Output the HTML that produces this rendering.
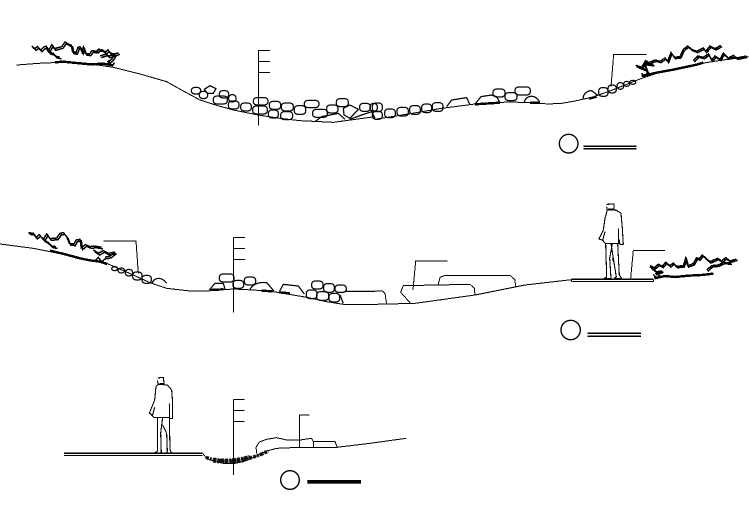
<!DOCTYPE html>
<html><head><meta charset="utf-8"><style>
html,body{margin:0;padding:0;background:#fff;width:749px;height:530px;overflow:hidden}
svg{display:block}
svg *{vector-effect:non-scaling-stroke}
.l{fill:none;stroke:#000;stroke-width:1;shape-rendering:crispEdges;stroke-linejoin:round}
.r{fill:none;stroke:#000;stroke-width:1.25;stroke-linejoin:round}
.r rect{rx:11px;ry:9px}
.s{fill:none;stroke:#000;stroke-width:1.5;shape-rendering:crispEdges}
.t{fill:none;stroke:#000;stroke-width:2.4;shape-rendering:crispEdges}
.g{fill:none;stroke:#111;stroke-width:5;stroke-dasharray:3 1 2 1 4 1}
</style></head><body>
<svg width="749" height="530" viewBox="0 0 749 530" xmlns="http://www.w3.org/2000/svg">

<!-- SECTION 1 LEFT -->
<g transform="translate(0,30) scale(.33333)">
<polyline class="l" points="50,105 115,100 180,97 260,100 340,112 420,132 500,155 550,183 600,210 650,226 700,240 775,255 840,265 900,272 1000,277 1125,260"/>
<g id="sa">
<polyline class="s" points="95,48 105,56 112,50 122,60 130,52 138,48 146,62 155,44 163,56 185,50 195,36 205,42 214,46 218,66 228,68 234,52 240,50 246,66 250,52 256,70 268,72 276,62 290,64 296,58 308,60 316,66 324,60 332,70 344,72 356,68"/>
<polyline class="s" points="140,58 150,68 160,70 166,78 180,82"/>
<polyline class="s" points="300,78 318,72 326,78 345,72 335,88 322,96"/>
</g>
<use href="#sa" x="4" y="5"/>
<polyline class="t" points="165,97 190,95 230,99 270,103 310,101 340,106"/>
<polyline class="s" points="320,106 328,96 336,108 344,98"/>
<!-- pole -->
<polyline class="l" points="775,60 775,287"/>
<polyline class="l" points="775,61 810,61"/><polyline class="l" points="775,94 810,94"/><polyline class="l" points="775,127 810,127"/>
<!-- rocks -->
<g class="r">
<rect x="574" y="172" width="28" height="20" rx="8"/>
<polygon points="613,178 630,167 648,176 640,190 622,190"/>
<rect x="598" y="184" width="25" height="22" rx="8"/>
<rect x="658" y="182" width="28" height="22" rx="8"/>
<rect x="640" y="198" width="42" height="24" rx="9"/>
<rect x="686" y="194" width="22" height="22" rx="8"/>
<rect x="685" y="213" width="32" height="24" rx="7"/>
<rect x="722" y="219" width="32" height="24" rx="8"/>
<rect x="760" y="203" width="44" height="22" rx="8"/>
<rect x="758" y="228" width="44" height="24" rx="8"/>
<rect x="808" y="214" width="34" height="24" rx="8"/>
<rect x="805" y="240" width="30" height="24" rx="7"/>
<rect x="844" y="219" width="36" height="24" rx="8"/>
<rect x="842" y="245" width="36" height="24" rx="7"/>
<rect x="883" y="227" width="34" height="26" rx="8"/>
<rect x="913" y="211" width="44" height="22" rx="8"/>
<rect x="938" y="238" width="44" height="24" rx="8"/>
<rect x="980" y="225" width="34" height="24" rx="6"/>
<rect x="1009" y="206" width="36" height="24" rx="8"/>
<polygon points="1030,235 1050,225 1075,238 1050,265 1032,255"/>
<rect x="1079" y="220" width="32" height="24" rx="8"/>
<rect x="1110" y="220" width="22" height="24" rx="6"/>
<polyline points="945,275 965,260 1015,250 1035,268"/>
<polyline points="1050,268 1085,255 1115,245 1125,265"/>
</g>
</g>

<!-- SECTION 1 RIGHT -->
<g transform="translate(375,30) scale(.33333)">
<polyline class="l" points="0,268 100,252 200,235 300,222 400,216 470,218 520,222 560,220 600,213 650,202 700,185 750,165 800,145 870,122 950,105 1030,92 1120,80"/>
<g class="r">
<rect x="-8" y="219" width="30" height="26" rx="6"/>
<rect x="-8" y="244" width="30" height="24" rx="6"/>
<rect x="29" y="237" width="32" height="26" rx="8"/>
<rect x="66" y="232" width="34" height="26" rx="8"/>
<rect x="104" y="227" width="32" height="26" rx="8"/>
<rect x="140" y="222" width="30" height="26" rx="8"/>
<rect x="172" y="218" width="32" height="26" rx="8"/>
<polyline points="215,230 230,210 275,203 285,225"/>
<polyline points="300,222 318,200 350,195 365,200 375,218"/>
<rect x="354" y="177" width="36" height="24" rx="10"/>
<rect x="390" y="188" width="36" height="24" rx="7"/>
<rect x="420" y="171" width="46" height="24" rx="10"/>
<path d="M448,216 C452,196 480,190 494,216"/>
<path d="M625,208 C622,190 640,182 650,182 L668,196"/>
<rect x="671" y="173" width="28" height="26" rx="10"/>
<rect x="699" y="165" width="25" height="24" rx="9"/>
<rect x="726" y="158" width="20" height="20" rx="7"/>
<rect x="746" y="154" width="18" height="15" rx="6"/>
<rect x="764" y="151" width="18" height="12" rx="5"/>
</g>
<polyline class="t" points="300,223 375,218"/><polyline class="t" points="465,218 495,218"/><polyline class="t" points="642,206 665,200"/>
<polyline class="l" points="815,73 716,73 708,170"/>
<g id="sb">
<polyline class="s" points="782,106 800,112 812,92 822,98 840,90 855,94 870,84 878,94 888,68 898,82 915,80 925,58 938,48 950,58 965,64 985,54 992,64 1005,48 1020,56 1038,46"/>
<polyline class="s" points="790,110 815,120 808,100 835,104"/>
<polyline class="s" points="955,92 968,78 985,82 1000,72 1010,90 1020,78 1035,88 1045,70 1060,84 1075,76 1085,84 1115,78"/>
</g>
<use href="#sb" x="3" y="4"/>
<polyline class="t" points="800,138 850,127 900,118 960,105 985,98"/>
<polyline class="s" points="800,130 810,140 818,126 828,136"/>
<!-- scale -->
<circle class="l" cx="581" cy="341" r="28" style="stroke-width:1.4;shape-rendering:auto"/>
<polyline class="l" points="625,349 785,349" style="stroke-width:1.3"/>
<polyline class="l" points="625,356 785,356" style="stroke-width:1.3"/>
</g>

<!-- SECTION 2 LEFT -->
<g transform="translate(0,220) scale(.33333)">
<polyline class="l" points="0,72 100,85 200,105 320,130 400,165 450,188 500,205 570,213 620,213 700,207 760,210 820,215 920,232 980,245 1030,253 1125,253"/>
<g id="sc">
<polyline class="s" points="85,38 100,40 108,52 118,44 130,58 140,42 150,56 170,54 180,40 190,38 200,50 208,70 222,72 228,60 240,58 244,84 256,74 270,80 285,78 305,82"/>
<polyline class="s" points="130,58 145,68 155,78 168,80"/>
<polyline class="s" points="280,90 295,100 310,92 325,100 345,96 330,108 315,112"/>
</g>
<use href="#sc" x="4" y="5"/>
<polyline class="t" points="150,92 200,104 240,115 270,121 300,125 322,132"/>
<polyline class="s" points="285,122 295,112 305,125 318,115"/>
<polyline class="l" points="310,63 408,63 415,160"/>
<polyline class="l" points="700,52 700,277"/>
<polyline class="l" points="700,52 735,52"/><polyline class="l" points="700,85 735,85"/><polyline class="l" points="700,118 735,118"/>
<g class="r">
<path d="M456,190 C462,172 485,168 500,190"/>
<rect x="426" y="166" width="28" height="24" rx="9"/>
<rect x="398" y="156" width="28" height="24" rx="9"/>
<rect x="376" y="148" width="22" height="20" rx="7"/>
<rect x="354" y="144" width="20" height="15" rx="5"/>
<rect x="335" y="140" width="18" height="12" rx="5"/>
<rect x="658" y="162" width="44" height="24" rx="9"/>
<polyline points="628,210 645,190 670,190 675,207"/>
<rect x="699" y="181" width="32" height="24" rx="7"/>
<rect x="733" y="171" width="34" height="24" rx="7"/>
<path d="M750,208 C760,190 780,186 800,188 L822,213"/>
<polyline points="838,215 850,193 895,198 913,222"/>
<rect x="935" y="183" width="34" height="24" rx="6"/>
<rect x="971" y="191" width="32" height="26" rx="8"/>
<rect x="1005" y="195" width="34" height="22" rx="7"/>
<rect x="919" y="210" width="32" height="26" rx="8"/>
<rect x="950" y="215" width="36" height="26" rx="8"/>
<rect x="987" y="220" width="32" height="26" rx="8"/>
<polyline points="1035,214 1125,214"/>
<polyline points="1020,225 1030,250"/>
</g>
<polyline class="t" points="632,210 670,208"/><polyline class="t" points="785,212 818,214"/><polyline class="t" points="838,217 870,220"/>
</g>

<!-- SECTION 2 RIGHT -->
<g transform="translate(375,195) scale(.33333)">
<polyline class="l" points="0,328 120,325 300,300 450,270 590,254"/>
<polyline class="l" points="590,253 835,253" style="stroke-width:1.3"/>
<polyline class="l" points="590,259 835,259"/>
<polyline class="l" points="590,253 590,259"/><polyline class="l" points="835,253 835,259"/>
<polyline class="l" points="0,288 22,288 30,295 35,328"/>
<polyline class="l" points="105,323 77,292 85,272 285,268 298,280 300,300"/>
<polyline class="l" points="190,268 195,247 210,241 405,241 420,255 422,278"/>
<polyline class="l" points="218,198 122,198 114,285"/>
<polyline class="l" points="870,166 775,166 767,250"/>
<!-- person -->
<g class="l" style="stroke-width:1.1">
<polyline points="695,28 717,27 717,42 697,43 695,35"/>
<polyline points="697,44 725,46 738,55 742,100 745,148 735,148 732,132"/>
<polyline points="697,44 690,70 685,105 672,132 683,136 690,110"/>
<polyline points="683,136 692,146 730,146 730,100"/>
<polyline points="692,146 695,246 688,250 708,250 704,190 712,146"/>
<polyline points="708,146 724,246 718,250 740,250 733,240 728,146"/>
<polyline points="712,190 718,205"/>
</g>
<!-- shrub -->
<g id="sd">
<polyline class="s" points="825,212 838,218 850,208 862,214 872,202 885,212 895,204 905,214 925,212 932,190 938,212 955,206 965,188 972,192 982,180 995,192 1005,200 1028,190 1040,198 1052,188 1065,198 1085,192"/>
<polyline class="s" points="825,215 845,230 862,228 840,236"/>
<polyline class="s" points="995,225 1010,212 1030,210 1045,202 1068,204"/>
</g>
<use href="#sd" x="3" y="4"/>
<polyline class="t" points="838,250 870,243 900,246 940,242 980,240 1015,236"/>
<polyline class="s" points="835,238 845,250 855,240"/>
<circle class="l" cx="587" cy="405" r="29" style="stroke-width:1.4;shape-rendering:auto"/>
<polyline class="l" points="637,415 798,415" style="stroke-width:1.3"/>
<polyline class="l" points="637,424 798,424" style="stroke-width:1.3"/>
</g>

<!-- SECTION 3 -->
<g transform="translate(50,370) scale(.33333)">
<polyline class="l" points="42,250 458,250" style="stroke-width:1.3"/>
<polyline class="l" points="42,257 458,257"/>
<polyline class="l" points="458,250 470,265 490,273 520,280 555,280 580,275 620,258 650,243 680,235 750,232 860,232 960,220 1068,205"/>
<path class="g" d="M468,262 C500,276 540,276 580,268 C610,263 630,255 655,243" style="stroke-width:3.5"/>
<path class="g" d="M490,270 C520,276 560,274 600,262"/>
<polyline class="l" points="620,250 618,232 628,216 650,208 680,203 710,210 750,210 785,205 790,215 855,215 862,232"/>
<polyline class="l" points="790,215 790,232"/>
<polyline class="l" points="778,135 748,135 748,232"/>
<polyline class="l" points="551,88 551,315"/>
<polyline class="l" points="551,88 584,88"/><polyline class="l" points="551,121 584,121"/><polyline class="l" points="551,154 584,154"/>
<!-- person -->
<g class="l" style="stroke-width:1.1">
<polyline points="322,24 340,22 342,40 325,42 322,32"/>
<polyline points="325,43 352,45 365,60 368,100 368,145 358,145 358,100"/>
<polyline points="325,43 318,50 314,90 298,130 308,135 314,112"/>
<polyline points="304,134 312,142 358,142 358,145"/>
<polyline points="322,142 322,244 312,250 334,250 332,190 338,142"/>
<polyline points="338,165 350,190 352,244 348,250 366,250 360,240 358,145"/>
</g>
<circle class="l" cx="720" cy="330" r="28" style="stroke-width:1.4;shape-rendering:auto"/>
<rect x="772" y="330" width="161" height="11" fill="#000"/>
</g>
</svg>
</body></html>
